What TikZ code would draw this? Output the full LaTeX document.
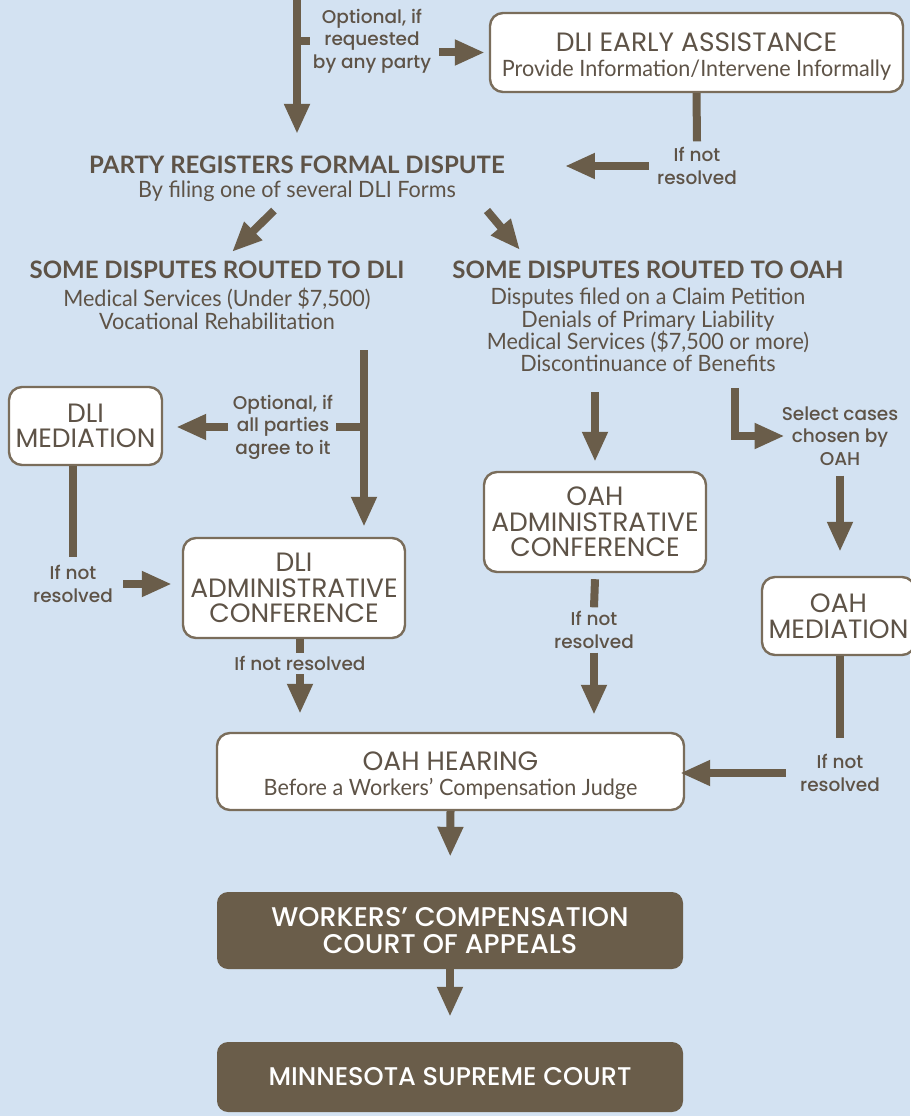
\documentclass[tikz,border=0pt]{standalone}
\usepackage{fontspec}
\setmainfont{Lato}
\newfontfamily\condf[FakeStretch=0.96]{Lato}
\newfontfamily\boxf{Poppins}
\newfontfamily\medf{Poppins}[UprightFont={* Medium}]
\usetikzlibrary{arrows.meta}
\definecolor{bg}{HTML}{D3E2F2}
\definecolor{brn}{HTML}{6A5D4A}
\definecolor{txt}{HTML}{5E5347}
\definecolor{edge}{HTML}{7A6D5B}
\tikzset{
  box/.style={draw=edge, line width=2.4pt, fill=white, rounded corners=13pt, align=center, inner sep=0pt, text=txt, font=\boxf\fontsize{26.5}{25.5}\selectfont},
  dbox/.style={fill=brn, rounded corners=11pt, align=center, inner sep=0pt, text=white},
  lbl/.style={text=txt, align=center, inner sep=0pt, font=\medf\fontsize{18.5}{22.5}\selectfont},
  head/.style={text=txt, align=center, inner sep=0pt, font=\bfseries\fontsize{24}{27}\selectfont},
  sub/.style={text=txt, align=center, inner sep=0pt, font=\condf\fontsize{22.5}{22.3}\selectfont},
  conn/.style={draw=brn, line width=8pt},
  arr/.style={conn, -{Triangle[width=24pt,length=30pt]}},
}
\newcommand{\subtxt}[1]{{\condf\fontsize{22.5}{22}\selectfont #1}}
\newcommand{\tall}[1]{\raisebox{0pt}[27pt][0pt]{#1}}
\begin{document}
\begin{tikzpicture}[x=1pt,y=-1pt]
\fill[bg] (0,0) rectangle (910,1116);
\useasboundingbox (0,0) rectangle (910,1116);

% nodes
\coordinate (start) at (297,0);
\node[lbl] (opt1) at (372,41) {Optional, if\\requested\\by any party};
\node[box, minimum width=413pt, minimum height=79pt] (early) at (696.5,52.5)
  {\tall{DLI EARLY ASSISTANCE}\\\subtxt{Provide Information/Intervene Informally}};
\node[head] (party) at (297,165) {PARTY REGISTERS FORMAL DISPUTE};
\node[sub] (partysub) at (297,191) {By filing one of several DLI Forms};
\node[lbl] (ifnot1) at (697,166) {If not\\resolved};
\node[head] (dlihead) at (217,270) {SOME DISPUTES ROUTED TO DLI};
\node[sub] (dlilist) at (217,309) {Medical Services (Under \$7,500)\\Vocational Rehabilitation};
\node[head] (oahhead) at (648,270) {SOME DISPUTES ROUTED TO OAH};
\node[sub] (oahlist) at (648,330) {Disputes filed on a Claim Petition\\Denials of Primary Liability\\Medical Services (\$7,500 or more)\\Discontinuance of Benefits};
\node[lbl] (opt2) at (283,427) {Optional, if\\all parties\\agree to it};
\node[box, minimum width=153pt, minimum height=78pt] (dlimed) at (85.5,426) {DLI\\MEDIATION};
\node[lbl] (ifnot2) at (73,584) {If not\\resolved};
\node[box, minimum width=222pt, minimum height=100pt] (dliadm) at (294,588) {DLI\\ADMINISTRATIVE\\CONFERENCE};
\node[lbl] (ifnot3) at (300,663) {If not resolved};
\node[box, minimum width=222pt, minimum height=100pt] (oahadm) at (595,522) {OAH\\ADMINISTRATIVE\\CONFERENCE};
\node[lbl] (sel) at (840,436) {Select cases\\chosen by\\OAH};
\node[lbl] (ifnot4) at (594,630) {If not\\resolved};
\node[box, minimum width=153pt, minimum height=78pt] (oahmed) at (838.5,616) {OAH\\MEDIATION};
\node[lbl] (ifnot5) at (840,773) {If not\\resolved};
\node[box, minimum width=467pt, minimum height=77pt] (hear) at (450.5,771.5)
  {\tall{OAH HEARING}\\\subtxt{Before a Workers’ Compensation Judge}};
\node[dbox, minimum width=466pt, minimum height=77pt, font=\medf\fontsize{27}{27}\selectfont] (wcca) at (450,930.5) {WORKERS’ COMPENSATION\\COURT OF APPEALS};
\node[dbox, minimum width=466pt, minimum height=70pt, font=\medf\fontsize{25.6}{27}\selectfont] (msc) at (450,1077) {MINNESOTA SUPREME COURT};
\coordinate (dj) at (364,350);
\coordinate (sj) at (735,388);

% connectors
\draw[arr, shorten >=22pt] (start) -- (start |- party.north);
\draw[conn] (start |- opt1.west) -- ([xshift=-3pt]opt1.west);
\draw[arr, shorten >=4pt] ([xshift=8pt]opt1.east |- early.west) -- (early.west);
\draw[conn] (early.south) -- ([yshift=6pt]ifnot1.north);
\draw[arr] ([xshift=-8pt]ifnot1.west) -- ([xshift=60pt]party.east |- ifnot1.west);
\draw[arr] ([xshift=-23pt,yshift=-9pt]partysub.south) -- ([xshift=15pt,yshift=9pt]dlihead.north);
\draw[arr] ([xshift=31pt,yshift=-9pt]partysub.south east) -- ([xshift=-128pt,yshift=11pt]oahhead.north);
\draw[arr, shorten >=10pt] (dj) -- (dj |- dliadm.north);
\draw[conn] (dj |- opt2.east) -- ([xshift=3pt]opt2.east);
\draw[arr, shorten >=13pt] ([xshift=-5pt]opt2.west) -- (opt2.west -| dlimed.east);
\draw[conn] (dlimed.south -| ifnot2.north) -- ([yshift=8pt]ifnot2.north);
\draw[arr, shorten >=10pt] ([xshift=10pt]ifnot2.east) -- (ifnot2.east -| dliadm.west);
\draw[conn] (ifnot3.north |- dliadm.south) -- ([yshift=3pt]ifnot3.north);
\draw[arr, shorten >=18pt] ([yshift=-4pt]ifnot3.south) -- (ifnot3.south |- hear.north);
\draw[arr, shorten >=9pt] ([yshift=-20pt]oahlist.south -| oahadm.north) -- (oahadm.north);
\draw[arr] (sj) |- ([xshift=3pt]sel.west);
\draw[arr, shorten >=24pt] ([yshift=-10pt]sel.south) -- (sel.south |- oahmed.north);
\draw[conn] ([yshift=-6pt]oahadm.south) -- ([yshift=4pt]ifnot4.north);
\draw[arr, shorten >=17pt] ([yshift=-4pt]ifnot4.south) -- (ifnot4.south |- hear.north);
\draw[conn] (oahmed.south -| ifnot5.north) -- ([yshift=16pt]ifnot5.north);
\draw[arr, shorten >=-5pt] ([xshift=-14pt]ifnot5.west) -- (ifnot5.west -| hear.east);
\draw[arr, shorten >=35pt] (hear.south) -- (wcca.north);
\draw[arr, shorten >=25pt] (wcca.south) -- (msc.north);
\end{tikzpicture}
\end{document}
